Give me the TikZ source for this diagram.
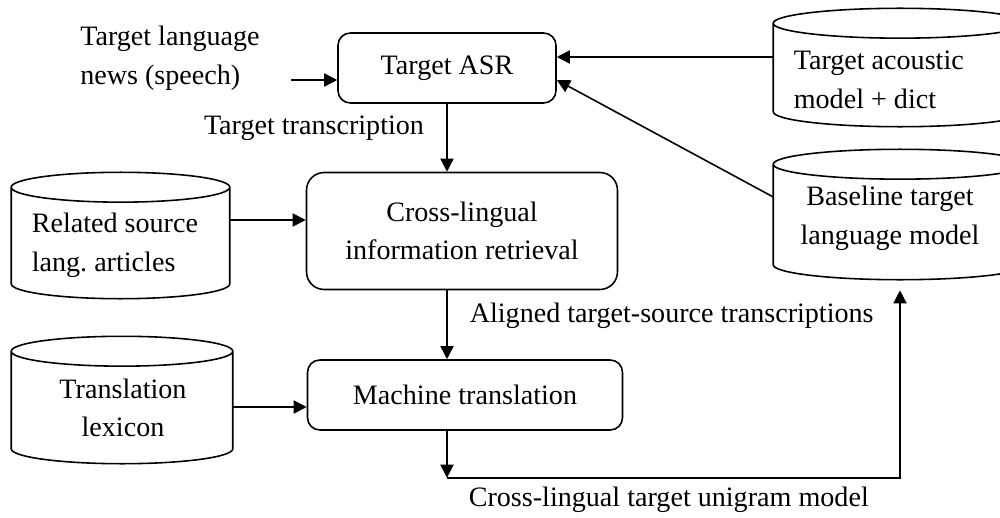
\documentclass[tikz,border=0pt]{standalone}
\usepackage{fontspec}
\setmainfont{Liberation Serif}
\usetikzlibrary{arrows.meta,calc}
\tikzset{
  stage/.style = {draw, rounded corners=7pt, align=center,
    minimum width=4.36cm, minimum height=1.4cm},
  bigstage/.style = {stage, rounded corners=10pt,
    minimum width=6.22cm, minimum height=2.34cm},
  db/.style = {inner sep=0pt, minimum width=4.34cm},
  rdb/.style = {db, minimum width=5.04cm},
  note/.style = {align=left, inner sep=0pt}
}
\begin{document}
\begin{tikzpicture}[x=0.02cm,y=-0.02cm,->,>={Triangle[length=7.5pt,width=7.5pt]},
    line width=0.9pt,font=\fontsize{16}{22}\selectfont\frenchspacing]
  \useasboundingbox (0,0) rectangle (1000,517);
  % stages
  \node[stage] (asr) at (447,68) {Target ASR};
  \node[bigstage] (clir) at (462,231) {Cross-lingual\\information retrieval};
  \node[stage, minimum width=6.3cm] (mt) at (465,395) {Machine translation};
  % databases (outlines drawn below)
  \node[db, minimum height=2.5cm] (rel) at (120.5,235.5) {};
  \node[db, minimum height=2.52cm, minimum width=4.4cm] (lex) at (122,400) {};
  \node[rdb, minimum height=2.34cm] (am) at (900,67.5) {};
  \node[rdb, minimum height=2.58cm] (lm) at (900,214.5) {};
  \foreach \d in {rel,lex,am,lm}
    \draw[-] let \p1=(\d.west), \p2=(\d.east), \n1={(\x2-\x1)/2} in
      ($(\d.north west)+(0,15)$) -- ($(\d.south west)+(0,-15)$)
      arc[start angle=180, end angle=360, x radius=\n1, y radius=8.5pt]
      -- ($(\d.north east)+(0,15)$)
      arc[start angle=0, end angle=360, x radius=\n1, y radius=8.5pt];
  \node[note, anchor=west] (reltext) at (31,245) {Related source\\lang. articles};
  \node[note, align=center] (lextext) at (123,408) {Translation\\lexicon};
  \node[note, anchor=west] (amtext) at (793,80) {Target acoustic\\model + dict};
  \node[note, align=center] (lmtext) at (890,218) {Baseline target\\language model};
  % labels
  \node[note] (news) at (170,58) {Target language\\news (speech)};
  \node[note] (trl) at (314,128) {Target transcription};
  \node[note, anchor=west] (alg) at (469,316) {Aligned target-source transcriptions};
  \node[note, anchor=west] (uni) at (468,500) {Cross-lingual target unigram model};
  % connection points
  \coordinate (src) at (291,80);
  \coordinate (amin) at ($(asr.east)+(0,-11)$);
  \coordinate (lmin) at ($(asr.east)+(0,12)$);
  \coordinate (lmout) at ($(lm.west)+(0,-17.5)$);
  \coordinate (relin) at ($(clir.west)+(0,-11)$);
  \coordinate (lexin) at ($(mt.west)+(0,12)$);
  % connections
  \draw (src) -- (src -| asr.west);
  \draw (amin -| am.west) -- (amin);
  \draw (lmout) -- (lmin);
  \draw (asr.south) -- (asr.south |- clir.north);
  \draw (relin -| rel.east) -- (relin);
  \draw (clir.south -| asr.south) -- (asr.south |- mt.north);
  \draw (lexin -| lex.east) -- (lexin);
  \draw (mt.south -| asr.south) -- ++(0,47) coordinate (turn);
  \draw[shorten >=6pt] (turn) -- (turn -| lm.south) -- (lm.south);
\end{tikzpicture}
\end{document}
